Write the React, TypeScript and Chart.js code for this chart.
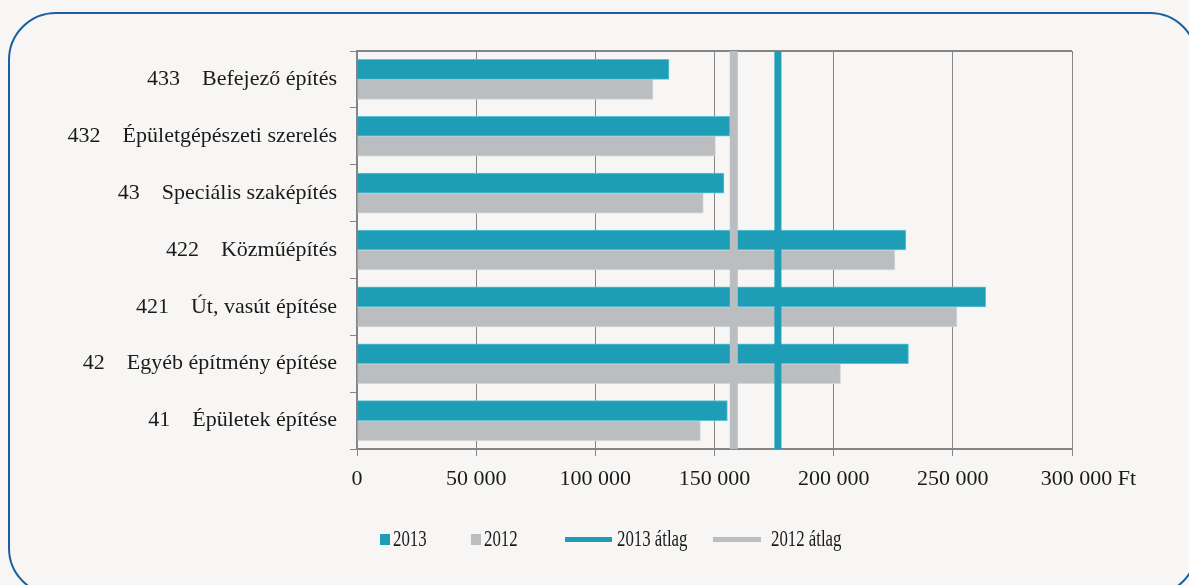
import React, { useEffect, useRef } from "react";
import { Chart, registerables } from "chart.js";

Chart.register(...registerables);

const NB = "\u00a0";
const categories = [
  `433${NB.repeat(4)}Befejező építés`,
  `432${NB.repeat(4)}Épületgépészeti szerelés`,
  `43${NB.repeat(4)}Speciális szaképítés`,
  `422${NB.repeat(4)}Közműépítés`,
  `421${NB.repeat(4)}Út, vasút építése`,
  `42${NB.repeat(4)}Egyéb építmény építése`,
  `41${NB.repeat(4)}Épületek építése`,
];
const values2013 = [130900, 156500, 154000, 230300, 263800, 231400, 155400];
const values2012 = [124200, 150400, 145300, 225700, 251700, 202900, 144100];
const avg2013 = 176600;
const avg2012 = 158100;
const xTicks = [0, 50000, 100000, 150000, 200000, 250000, 300000];
const legendLabels = ["2013", "2012", "2013 átlag", "2012 átlag"];

const TEAL = "#1e9db6";
const TEAL_EDGE = "#63c3d6";
const GRAY = "#bbbec0";
const GRAY_EDGE = "#d3d5d6";
const GRID = "#858585";
const FONT = "'Liberation Serif', 'Times New Roman', serif";

const fmt = (v: number) => String(v).replace(/\B(?=(\d{3})+(?!\d))/g, " ");

const framePlugin = {
  id: "frameTop",
  beforeDatasetsDraw(chart: any) {
    const { ctx, chartArea } = chart;
    ctx.save();
    ctx.strokeStyle = GRID;
    ctx.lineWidth = 2;
    ctx.beginPath();
    ctx.moveTo(chartArea.left, chartArea.top);
    ctx.lineTo(chartArea.right, chartArea.top);
    ctx.stroke();
    ctx.restore();
  },
};

export default function App() {
  const ref = useRef<HTMLCanvasElement | null>(null);

  useEffect(() => {
    if (!ref.current) return;
    const chart = new Chart(ref.current, {
      type: "bar",
      data: {
        labels: categories,
        datasets: [
          {
            type: "line",
            label: legendLabels[2],
            data: [
              { x: avg2013, y: 0 },
              { x: avg2013, y: 1 },
            ],
            yAxisID: "y2",
            borderColor: TEAL,
            borderWidth: 7,
            pointRadius: 0,
            order: 0,
          } as any,
          {
            type: "line",
            label: legendLabels[3],
            data: [
              { x: avg2012, y: 0 },
              { x: avg2012, y: 1 },
            ],
            yAxisID: "y2",
            borderColor: GRAY,
            borderWidth: 8,
            pointRadius: 0,
            order: 0,
          } as any,
          {
            label: legendLabels[0],
            data: values2013,
            backgroundColor: TEAL,
            borderColor: TEAL_EDGE,
            borderWidth: 1,
            yAxisID: "y",
            order: 1,
            barThickness: 20,
          },
          {
            label: legendLabels[1],
            data: values2012,
            backgroundColor: GRAY,
            borderColor: GRAY_EDGE,
            borderWidth: 1,
            yAxisID: "y",
            order: 1,
            barThickness: 20,
          },
        ],
      },
      options: {
        indexAxis: "y",
        animation: false,
        responsive: false,
        devicePixelRatio: 1,
        layout: { padding: { top: 51, right: 117, left: 0, bottom: 0 } },
        plugins: { legend: { display: false }, tooltip: { enabled: false } },
        scales: {
          x: {
            type: "linear",
            min: 0,
            max: 300000,
            afterBuildTicks: (s: any) => {
              s.ticks = xTicks.map((v) => ({ value: v }));
            },
            afterFit: (s: any) => {
              s.height = 585 - 449;
            },
            grid: { color: GRID, lineWidth: 1, tickLength: 7, drawTicks: true },
            border: { color: GRID, width: 2 },
            ticks: {
              color: "#1a1a1a",
              padding: 10,
              autoSkip: false,
              font: { family: FONT, size: 22 },
              maxRotation: 0,
              callback: (v: any) =>
                v === 300000 ? NB.repeat(6) + fmt(v) + " Ft" : fmt(v),
            },
          },
          y: {
            type: "category",
            offset: true,
            afterFit: (s: any) => {
              s.width = 357;
            },
            grid: {
              drawOnChartArea: false,
              color: GRID,
              tickLength: 7,
              offset: true,
            },
            border: { color: GRID, width: 2 },
            ticks: {
              color: "#1a1a1a",
              padding: 13,
              font: { family: FONT, size: 22 },
            },
          },
          y2: {
            type: "linear",
            axis: "y",
            min: 0,
            max: 1,
            offset: false,
            display: false,
          },
        },
      },
      plugins: [framePlugin],
    } as any);
    return () => chart.destroy();
  }, []);

  const legendText = (left: number, text: string) => (
    <div
      style={{
        position: "absolute",
        left,
        top: 527,
        fontFamily: FONT,
        fontSize: 23,
        lineHeight: "23px",
        color: "#1a1a1a",
        whiteSpace: "nowrap",
        transform: "scaleX(0.73)",
        transformOrigin: "left center",
      }}
    >
      {text}
    </div>
  );

  return (
    <div
      style={{
        position: "absolute",
        left: 0,
        top: 0,
        width: 1189,
        height: 585,
        overflow: "hidden",
        background: "#f7f6f4",
      }}
    >
      <div
        style={{
          position: "absolute",
          left: 8,
          top: 12,
          width: 1190,
          height: 584,
          boxSizing: "border-box",
          border: "2px solid #1b5fa0",
          borderRadius: 48,
        }}
      />
      <canvas
        ref={ref}
        width={1189}
        height={585}
        style={{ position: "absolute", left: 0, top: 0, width: 1189, height: 585 }}
      />
      <div style={{ position: "absolute", left: 380, top: 534, width: 10, height: 11, background: TEAL }} />
      {legendText(393, legendLabels[0])}
      <div style={{ position: "absolute", left: 471, top: 534, width: 10, height: 11, background: GRAY }} />
      {legendText(484, legendLabels[1])}
      <div style={{ position: "absolute", left: 565, top: 537, width: 47, height: 5, background: TEAL }} />
      {legendText(617, legendLabels[2])}
      <div style={{ position: "absolute", left: 713, top: 537, width: 48, height: 5, background: GRAY }} />
      {legendText(771, legendLabels[3])}
    </div>
  );
}
